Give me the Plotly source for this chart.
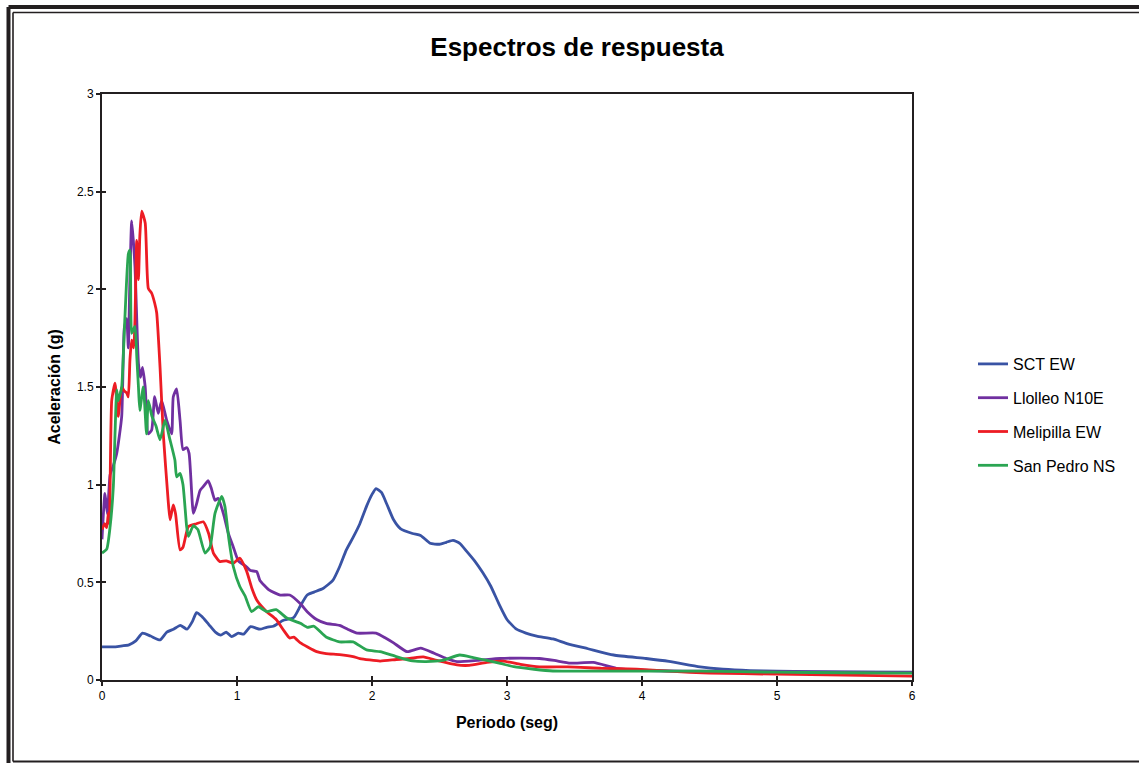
import plotly.graph_objects as go

# ---------------- data ----------------
series_names = ["SCT EW", "Llolleo N10E", "Melipilla EW", "San Pedro NS"]

sct_x = [0, 0.10, 0.15, 0.20, 0.25, 0.30, 0.36, 0.43, 0.48, 0.53, 0.58, 0.63, 0.67, 0.70, 0.74,
         0.79, 0.84, 0.88, 0.92, 0.96, 1.01, 1.05, 1.10, 1.17, 1.22, 1.27, 1.34, 1.42, 1.47, 1.52,
         1.57, 1.64, 1.71, 1.76, 1.81, 1.86, 1.91, 1.96, 2.00, 2.03, 2.07, 2.11, 2.16, 2.21, 2.30,
         2.36, 2.43, 2.50, 2.55, 2.60, 2.65, 2.70, 2.76, 2.82, 2.88, 2.94, 3.00, 3.07, 3.14, 3.22,
         3.34, 3.45, 3.60, 3.79, 4.03, 4.20, 4.43, 4.60, 4.80, 5.00, 5.50, 6.00]
sct_y = [0.17, 0.17, 0.175, 0.18, 0.20, 0.24, 0.225, 0.205, 0.245, 0.26, 0.28, 0.26, 0.30, 0.345, 0.325,
         0.285, 0.245, 0.23, 0.245, 0.222, 0.24, 0.235, 0.273, 0.26, 0.27, 0.275, 0.305, 0.32, 0.38, 0.435,
         0.45, 0.47, 0.51, 0.58, 0.666, 0.73, 0.80, 0.89, 0.95, 0.98, 0.96, 0.90, 0.82, 0.775, 0.75,
         0.74, 0.70, 0.695, 0.705, 0.715, 0.70, 0.66, 0.61, 0.55, 0.48, 0.39, 0.31, 0.26, 0.24, 0.225,
         0.21, 0.185, 0.16, 0.128, 0.11, 0.095, 0.067, 0.055, 0.048, 0.045, 0.042, 0.04]

llolleo_x = [0, 0.022, 0.04, 0.06, 0.085, 0.109, 0.146, 0.165, 0.183, 0.195, 0.205, 0.22, 0.244, 0.27, 0.285,
             0.30, 0.32, 0.343, 0.368, 0.39, 0.417, 0.442, 0.479, 0.516, 0.528, 0.553, 0.578, 0.60, 0.627, 0.645,
             0.677, 0.70, 0.726, 0.75, 0.787, 0.81, 0.837, 0.86, 0.90, 0.936, 0.973, 1.01, 1.07, 1.10, 1.146,
             1.17, 1.24, 1.32, 1.39, 1.47, 1.52, 1.59, 1.66, 1.76, 1.82, 1.89, 2.03, 2.10, 2.16, 2.26,
             2.36, 2.46, 2.55, 2.63, 2.78, 2.95, 3.10, 3.24, 3.35, 3.47, 3.64, 3.81, 4.0, 4.3, 4.6,
             5.0, 5.5, 6.0]
llolleo_y = [0.72, 0.955, 0.85, 1.05, 1.10, 1.16, 1.35, 1.80, 1.85, 1.70, 2.00, 2.35, 2.12, 1.62, 1.55,
             1.60, 1.50, 1.26, 1.28, 1.45, 1.365, 1.43, 1.33, 1.26, 1.45, 1.49, 1.33, 1.18, 1.19, 1.16,
             0.853, 0.90, 0.97, 0.99, 1.02, 0.98, 0.92, 0.93, 0.85, 0.75, 0.68, 0.61, 0.58, 0.56, 0.555,
             0.51, 0.46, 0.435, 0.435, 0.39, 0.35, 0.31, 0.29, 0.28, 0.26, 0.24, 0.24, 0.215, 0.19, 0.145,
             0.163, 0.137, 0.11, 0.094, 0.10, 0.11, 0.112, 0.11, 0.10, 0.086, 0.09, 0.06, 0.05, 0.045, 0.045,
             0.043, 0.04, 0.038]

melipilla_x = [0, 0.02, 0.035, 0.047, 0.055, 0.072, 0.096, 0.12, 0.146, 0.165, 0.183, 0.195, 0.207, 0.22, 0.235,
               0.244, 0.257, 0.27, 0.28, 0.294, 0.32, 0.343, 0.368, 0.39, 0.405, 0.43, 0.454, 0.49, 0.504, 0.528,
               0.545, 0.578, 0.60, 0.64, 0.70, 0.75, 0.79, 0.825, 0.874, 0.92, 0.973, 1.02, 1.07, 1.11, 1.146,
               1.22, 1.29, 1.35, 1.39, 1.42, 1.47, 1.52, 1.59, 1.66, 1.76, 1.86, 1.91, 2.06, 2.18, 2.28,
               2.38, 2.48, 2.63, 2.72, 2.85, 2.97, 3.1, 3.24, 3.45, 3.7, 3.96, 4.2, 4.5, 5.0, 5.5, 6.0]
melipilla_y = [0.77, 0.80, 0.78, 0.855, 0.80, 1.43, 1.52, 1.35, 1.50, 1.48, 1.47, 1.45, 1.64, 1.74, 1.70,
               1.84, 2.25, 2.05, 2.27, 2.40, 2.34, 2.005, 1.98, 1.93, 1.88, 1.60, 1.26, 0.92, 0.82, 0.896,
               0.85, 0.666, 0.68, 0.785, 0.80, 0.81, 0.75, 0.65, 0.606, 0.61, 0.598, 0.624, 0.56, 0.47, 0.41,
               0.35, 0.31, 0.25, 0.215, 0.22, 0.19, 0.17, 0.145, 0.135, 0.13, 0.12, 0.11, 0.097, 0.105, 0.11,
               0.118, 0.10, 0.077, 0.075, 0.09, 0.097, 0.08, 0.067, 0.067, 0.06, 0.055, 0.045, 0.035, 0.03, 0.025, 0.02]

sanpedro_x = [0, 0.035, 0.06, 0.084, 0.096, 0.109, 0.12, 0.133, 0.146, 0.17, 0.195, 0.207, 0.22, 0.244, 0.258,
              0.27, 0.28, 0.306, 0.33, 0.343, 0.37, 0.40, 0.43, 0.467, 0.50, 0.54, 0.553, 0.578, 0.60, 0.627,
              0.64, 0.677, 0.71, 0.763, 0.80, 0.837, 0.887, 0.91, 0.94, 0.973, 1.02, 1.06, 1.108, 1.158, 1.22,
              1.29, 1.37, 1.47, 1.52, 1.57, 1.66, 1.76, 1.86, 1.96, 2.06, 2.18, 2.3, 2.4, 2.52, 2.65,
              2.75, 2.85, 2.95, 3.05, 3.2, 3.34, 3.6, 4.0, 4.43, 5.0, 5.5, 6.0]
sanpedro_y = [0.65, 0.67, 0.785, 0.99, 1.25, 1.485, 1.43, 1.46, 1.50, 1.86, 2.18, 2.20, 1.775, 1.81, 1.65,
              1.50, 1.38, 1.50, 1.26, 1.43, 1.35, 1.30, 1.23, 1.33, 1.24, 1.126, 1.04, 1.058, 1.0, 0.785,
              0.735, 0.79, 0.77, 0.65, 0.68, 0.853, 0.94, 0.89, 0.72, 0.58, 0.48, 0.43, 0.35, 0.375, 0.35,
              0.36, 0.317, 0.29, 0.27, 0.275, 0.22, 0.195, 0.195, 0.154, 0.145, 0.12, 0.098, 0.094, 0.1, 0.128,
              0.115, 0.1, 0.085, 0.068, 0.055, 0.046, 0.045, 0.045, 0.045, 0.04, 0.037, 0.035]

x_ticks = [0, 1, 2, 3, 4, 5, 6]
y_ticks = [0, 0.5, 1, 1.5, 2, 2.5, 3]

# ---------------- styling ----------------
colors = ["#3953a4", "#7030a0", "#ed1c24", "#2aa552"]
FONT = "Arial, Liberation Sans, sans-serif"
W, H = 1139, 763
L, R, T, B = 102, 227, 94, 83
pw, ph = W - L - R, H - T - B


def px(x):
    return (x - L) / pw


def py(y):
    return (H - B - y) / ph


fig = go.Figure()
all_x = [sct_x, llolleo_x, melipilla_x, sanpedro_x]
all_y = [sct_y, llolleo_y, melipilla_y, sanpedro_y]
for i, (name, xs, ys) in enumerate(zip(series_names, all_x, all_y)):
    assert len(xs) == len(ys), name
    fig.add_trace(go.Scatter(
        x=xs, y=ys, name=name, mode="lines",
        line=dict(color=colors[i], width=2.8, shape="spline", smoothing=0.5),
        legendgroup=f"g{i}",
    ))

axis_common = dict(showgrid=False, zeroline=False, showline=True, mirror=True,
                   linecolor="#231f20", linewidth=2, ticks="outside", ticklen=4,
                   tickwidth=1.5, tickcolor="#231f20",
                   tickfont=dict(family=FONT, size=12, color="#000"))

fig.update_layout(
    width=W, height=H,
    margin=dict(l=L, r=R, t=T, b=B, autoexpand=False),
    paper_bgcolor="white", plot_bgcolor="white",
    title=dict(text="<b>Espectros de respuesta</b>", x=577 / W, xanchor="center",
               y=1 - 47 / H, yanchor="middle",
               font=dict(family=FONT, size=26, color="#000")),
    xaxis=dict(range=[0, 6], tickvals=x_ticks, ticktext=[str(v) for v in x_ticks],
               title=dict(text="<b>Periodo (seg)</b>", standoff=14,
                          font=dict(family=FONT, size=16, color="#000")),
               **axis_common),
    yaxis=dict(range=[0, 3], tickvals=y_ticks, ticktext=[f"{v:g}" for v in y_ticks],
               title=dict(text="<b>Aceleración (g)</b>", standoff=12,
                          font=dict(family=FONT, size=16, color="#000")),
               **axis_common),
    xaxis2=dict(range=[0, 6], overlaying="x", anchor="y2", side="bottom", tickvals=x_ticks,
                showticklabels=False, ticks="inside", ticklen=4, tickwidth=1.5,
                tickcolor="#231f20", showgrid=False, zeroline=False, showline=False),
    yaxis2=dict(range=[0, 3], overlaying="y", anchor="x2", side="left", tickvals=y_ticks,
                showticklabels=False, ticks="inside", ticklen=4, tickwidth=1.5,
                tickcolor="#231f20", showgrid=False, zeroline=False, showline=False),
    legend=dict(x=px(973), xanchor="left", y=py(415), yanchor="middle",
                font=dict(family=FONT, size=16, color="#000"),
                tracegroupgap=10, traceorder="grouped", bgcolor="rgba(0,0,0,0)",
                borderwidth=0),
    showlegend=True,
)

# dummy invisible trace so the overlay axes are rendered
fig.add_trace(go.Scatter(x=[None], y=[None], xaxis="x2", yaxis="y2", showlegend=False,
                         hoverinfo="skip"))

# outer frame lines (page border)
frame = [
    (8.5, 7, W + 5, 7, 4),
    (8.5, 7, 8.5, H + 5, 4),
    (13, 12.5, W + 5, 12.5, 1.6),
    (13, 12.5, 13, 761.5, 1.6),
    (13, 761.5, W + 5, 761.5, 1.8),
]
shapes = []
for x0, y0, x1, y1, w in frame:
    shapes.append(dict(type="line", xref="paper", yref="paper",
                       x0=px(x0), y0=py(y0), x1=px(x1), y1=py(y1),
                       line=dict(color="#231f20", width=w)))
fig.update_layout(shapes=shapes)

fig.write_html("out.html", config={"displayModeBar": False},
               post_script="document.body.style.margin='0';document.body.style.overflow='hidden';")
